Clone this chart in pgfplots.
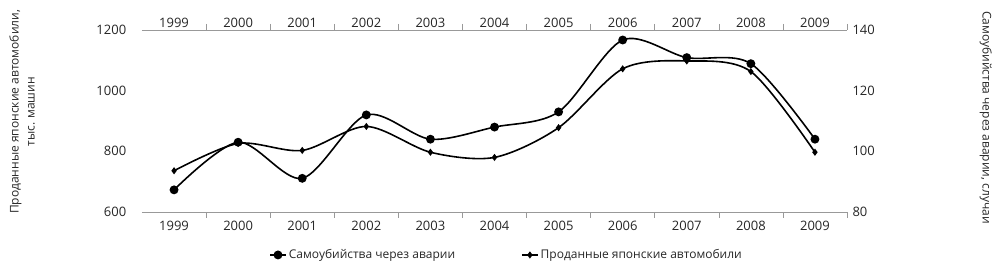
\documentclass[border=0pt]{standalone}
\usepackage{pgfplots}
\usepackage{pgfplotstable}
\pgfplotsset{compat=1.18}
\usepackage{fontspec}
\setmainfont{Open Sans}

\pgfplotstableread{
x cars suic
0 736 87.3
1 826 103
2 803 91.1
3 882 112
4 797 104
5 780 108
6 878 113
7 1072 136.7
8 1098 130.9
9 1063 128.9
10 797 104
}\data

\pgfplotsset{common/.style={
  scale only axis, width=705pt, height=182pt,
  xmin=-0.5, xmax=10.5,
  xtick={0,1,2,3,4,5,6,7,8,9,10},
  xticklabels={1999,2000,2001,2002,2003,2004,2005,2006,2007,2008,2009},
  separate axis lines,
  y axis line style={draw=none},
  x axis line style={draw=black!40, line width=0.8pt},
  ytick style={draw=none}, xtick style={draw=none},
  /pgf/number format/1000 sep={},
  /pgf/number format/assume math mode=true,
  tick label style={font=\fontsize{13}{14}\selectfont, text=black!85},
  label style={font=\fontsize{12}{16}\selectfont, text=black!85},
  at={(0,0)}, anchor=south west,
  clip=false,
}}

\begin{document}
\begin{tikzpicture}
\begin{axis}[common,
  ymin=600, ymax=1200, ytick={600,800,1000,1200},
  yticklabel pos=left, xticklabel pos=left,
  minor xtick={0.5,1.5,2.5,3.5,4.5,5.5,6.5,7.5,8.5,9.5,10.5},
  minor tick length=6pt, tick align=outside,
  minor x tick style={draw=black!40, line width=0.6pt},
  yticklabel style={xshift=-8pt},
  xticklabel style={yshift=-1pt},
  ylabel={Проданные японские автомобили,\\тыс. машин},
  ylabel style={at={(axis description cs:-0.170,0.55)}, anchor=center, align=center},
]
\addplot[black, line width=1.6pt, smooth, tension=0.5, mark=diamond*, mark size=2.3pt]
  table[x=x, y=cars] {\data};
\end{axis}
\begin{axis}[common,
  ymin=80, ymax=140, ytick={80,100,120,140},
  yticklabel pos=right, xticklabel pos=right,
  yticklabel style={xshift=2pt},
  xticklabel style={yshift=-1pt},
  ylabel={Самоубийства через аварии, случаи},
  ylabel style={at={(axis description cs:1.197,0.52)}, anchor=center, rotate=180},
  legend columns=2,
  legend style={at={(axis description cs:0.517,-0.236)}, anchor=center, draw=none, fill=none,
    font=\fontsize{12}{13}\selectfont, text=black!85,
    /tikz/every even column/.append style={column sep=64pt}},
  legend image code/.code={\draw[mark repeat=2,mark phase=2] plot coordinates {(0pt,0pt) (8pt,0pt) (16pt,0pt)};},
]
\addplot[black, line width=1.6pt, smooth, tension=0.5, mark=*, mark size=3.6pt]
  table[x=x, y=suic] {\data};
\addlegendentry{Самоубийства через аварии}
\addlegendimage{black, line width=1.6pt, mark=diamond*, mark size=2.3pt}
\addlegendentry{Проданные японские автомобили}
\end{axis}
\pgfresetboundingbox
\path[use as bounding box] (-142pt,-60pt) rectangle (858pt,212pt);
\end{tikzpicture}
\end{document}
